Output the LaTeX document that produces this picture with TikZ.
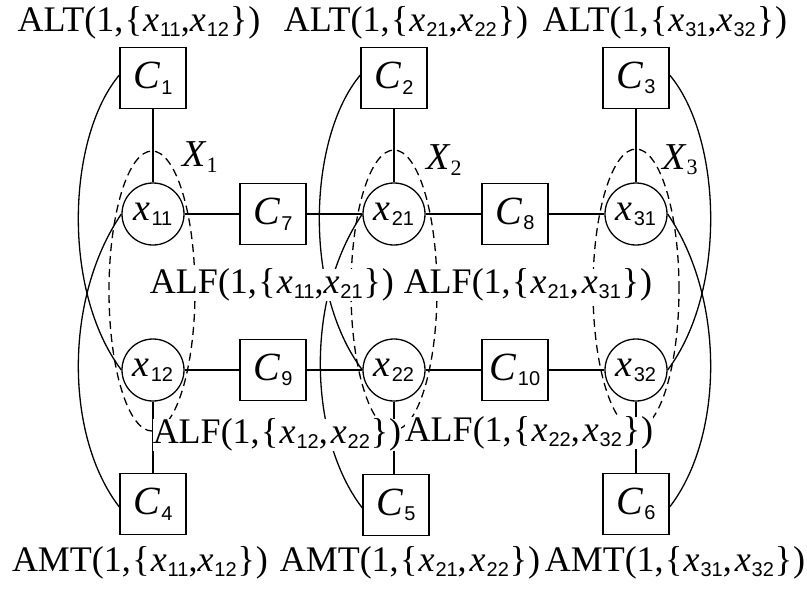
\documentclass[tikz,border=0pt]{standalone}
\usepackage{fontspec}
\setmainfont{Liberation Serif}
\setsansfont{Liberation Sans}
\usetikzlibrary{shapes.geometric}
\newcommand{\sbs}[1]{\raisebox{-0.3ex}{\fontsize{20}{20}\sffamily #1}}
\newcommand{\vx}[1]{\textit{x}\kern1pt\sbs{#1}}
\newcommand{\cc}[1]{\textit{C}\kern1pt\sbs{#1}}
\newcommand{\grpname}[1]{\textit{X}\raisebox{-0.3ex}{\fontsize{22}{22}\selectfont #1}}
\newcommand{\lb}{\kern1.5pt\{\kern1pt}
\newcommand{\rb}{\kern1pt\}\kern1pt}
\newcommand{\gapsp}{\kern3pt}
\begin{document}
\begin{tikzpicture}[x=1pt,y=-1pt,
  cbox/.style={draw, line width=1.4pt, minimum width=66pt, minimum height=61pt, fill=white, inner sep=0pt, font=\fontsize{40}{40}\selectfont},
  vnode/.style={draw, circle, line width=1.3pt, minimum size=62pt, inner sep=0pt, fill=white, font=\fontsize{38}{38}\selectfont},
  lab/.style={fill=white, inner sep=0pt, font=\fontsize{36}{38}\selectfont},
  edge/.style={line width=1.3pt},
  arcl/.style={line width=1.3pt},
  grp/.style={draw, ellipse, line width=1.3pt, dash pattern=on 8pt off 5pt, minimum width=86pt, minimum height=280pt, inner sep=0pt},
  xlab/.style={font=\fontsize{38}{38}\selectfont, inner sep=1pt}]
\useasboundingbox (0,0) rectangle (807,590);
% groups
\node[grp] (G1) at (152,291) {};
\node[grp] (G2) at (394,290) {};
\node[grp] (G3) at (636,289) {};
% nodes
\node[cbox] (C1) at (153,78) {\cc{1}};
\node[cbox] (C2) at (394,78) {\cc{2}};
\node[cbox] (C3) at (636,78) {\cc{3}};
\node[cbox] (C4) at (153,504) {\cc{4}};
\node[cbox] (C5) at (396,505) {\cc{5}};
\node[cbox] (C6) at (636,504) {\cc{6}};
\node[cbox] (C7) at (273,214) {\cc{7}};
\node[cbox] (C8) at (515,214) {\cc{8}};
\node[cbox] (C9) at (273,370) {\cc{9}};
\node[cbox] (C10) at (515,370) {\cc{10}};
\node[vnode] (x11) at (153,214) {\vx{11}};
\node[vnode] (x21) at (394,214) {\vx{21}};
\node[vnode] (x31) at (636,214) {\vx{31}};
\node[vnode] (x12) at (153,370) {\vx{12}};
\node[vnode] (x22) at (394,370) {\vx{22}};
\node[vnode] (x32) at (636,370) {\vx{32}};
% straight edges
\draw[edge] (C1) -- (x11);
\draw[edge] (C2) -- (x21);
\draw[edge] (C3) -- (x31);
\draw[edge] (x12) -- (C4);
\draw[edge] (x22.south) -- (x22.south |- C5.north);
\draw[edge] (x32) -- (C6);
\draw[edge] (x11) -- (C7);
\draw[edge] (C7) -- (x21);
\draw[edge] (x21) -- (C8);
\draw[edge] (C8) -- (x31);
\draw[edge] (x12) -- (C9);
\draw[edge] (C9) -- (x22);
\draw[edge] (x22) -- (C10);
\draw[edge] (C10) -- (x32);
% curved edges
\draw[arcl] (C1.175) .. controls +(-52,62) and +(-60,-80) .. (x12.west);
\draw[arcl] (x11.west) .. controls +(-58,85) and +(-54,-70) .. (C4.185);
\draw[arcl] (C2.175) .. controls +(-52,62) and +(-60,-80) .. (x22.west);
\draw[arcl] (x21.west) .. controls +(-58,85) and +(-54,-70) .. (C5.185);
\draw[arcl] (C3.5) .. controls +(52,62) and +(60,-80) .. (x32.east);
\draw[arcl] (x31.east) .. controls +(58,85) and +(54,-70) .. (C6.355);
% labels
\node[lab] (alt1) at (139,23) {ALT(1,\lb\vx{11},\vx{12}\rb)};
\node[lab] (alt2) at (406,23) {ALT(1,\lb\vx{21},\vx{22}\rb)};
\node[lab] (alt3) at (665,23) {ALT(1,\lb\vx{31},\vx{32}\rb)};
\node[lab] (amt1) at (140,563) {AMT(1,\lb\vx{11},\vx{12}\rb)};
\node[lab] (amt2) at (410,563) {AMT(1,\lb\vx{21},\gapsp\vx{22}\rb)};
\node[lab] (amt3) at (675,563) {AMT(1,\lb\vx{31},\gapsp\vx{32}\rb)};
\node[lab] (alf1) at (272,285) {ALF(1,\lb\vx{11},\vx{21}\rb)};
\node[lab] (alf2) at (528,285) {ALF(1,\lb\vx{21},\gapsp\vx{31}\rb)};
\node[lab] (alf3) at (277,435) {ALF(1,\lb\vx{12},\gapsp\vx{22}\rb)};
\node[lab] (alf4) at (529,433) {ALF(1,\lb\vx{22},\gapsp\vx{32}\rb)};
\node[xlab] (X1) at (200,157) {\grpname{1}};
\node[xlab] (X2) at (444,160) {\grpname{2}};
\node[xlab] (X3) at (680,160) {\grpname{3}};
\end{tikzpicture}
\end{document}
